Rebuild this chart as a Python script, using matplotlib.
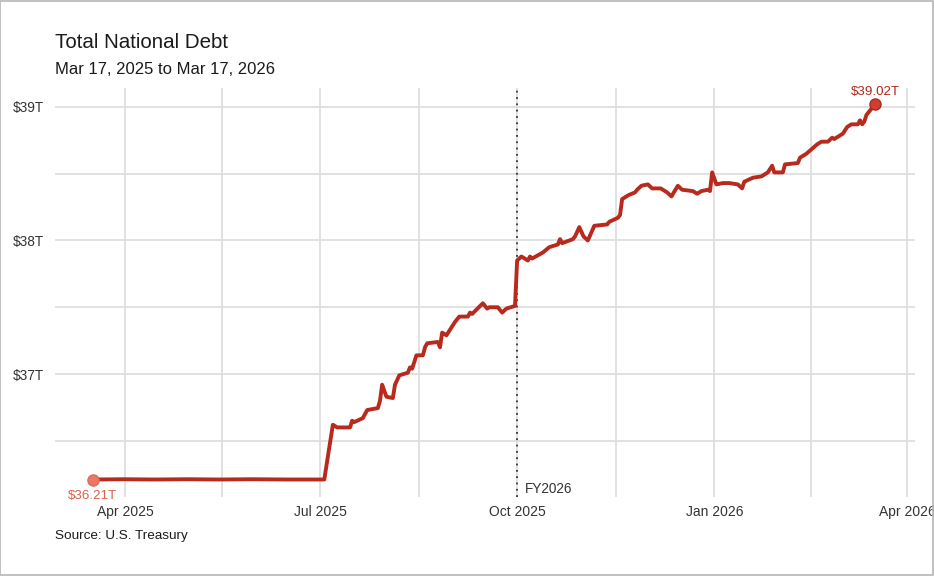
import matplotlib
matplotlib.use("Agg")
import matplotlib.pyplot as plt
import matplotlib.dates as mdates
from matplotlib.patches import Rectangle
import numpy as np
import pandas as pd

plt.rcParams['font.family'] = ['Liberation Sans', 'DejaVu Sans']

# ---- data ($ trillions) ----
dates = [
    "2025-03-17", "2025-03-31", "2025-04-15", "2025-04-30", "2025-05-15", "2025-05-30",
    "2025-06-16", "2025-06-30", "2025-07-03",
    "2025-07-07", "2025-07-09", "2025-07-15", "2025-07-16", "2025-07-17", "2025-07-21",
    "2025-07-23", "2025-07-28", "2025-07-29", "2025-07-30", "2025-08-01", "2025-08-04",
    "2025-08-05", "2025-08-07", "2025-08-11", "2025-08-12", "2025-08-13", "2025-08-15",
    "2025-08-18", "2025-08-19", "2025-08-20", "2025-08-25", "2025-08-26", "2025-08-27",
    "2025-08-29", "2025-09-02", "2025-09-04", "2025-09-08", "2025-09-09", "2025-09-10",
    "2025-09-15", "2025-09-17", "2025-09-18", "2025-09-22", "2025-09-24", "2025-09-26",
    "2025-09-30", "2025-10-01", "2025-10-03", "2025-10-06", "2025-10-07", "2025-10-08",
    "2025-10-13", "2025-10-16", "2025-10-20", "2025-10-21", "2025-10-22", "2025-10-27",
    "2025-10-28", "2025-10-30", "2025-11-01", "2025-11-03", "2025-11-06", "2025-11-12",
    "2025-11-13", "2025-11-17", "2025-11-18", "2025-11-19", "2025-11-21", "2025-11-22",
    "2025-11-25", "2025-11-26", "2025-11-28", "2025-12-01", "2025-12-03", "2025-12-07",
    "2025-12-10", "2025-12-12", "2025-12-15", "2025-12-17", "2025-12-22", "2025-12-24",
    "2025-12-26", "2025-12-29", "2025-12-30", "2025-12-31", "2026-01-02", "2026-01-05",
    "2026-01-08", "2026-01-12", "2026-01-14", "2026-01-15", "2026-01-19", "2026-01-23",
    "2026-01-26", "2026-01-28", "2026-01-29", "2026-02-02", "2026-02-03", "2026-02-09",
    "2026-02-10", "2026-02-13", "2026-02-18", "2026-02-20", "2026-02-23", "2026-02-25",
    "2026-02-26", "2026-03-02", "2026-03-04", "2026-03-06", "2026-03-09", "2026-03-10",
    "2026-03-11", "2026-03-12", "2026-03-13", "2026-03-16", "2026-03-17",
]
debt = [
    36.21, 36.212, 36.21, 36.212, 36.21, 36.212,
    36.21, 36.21, 36.21,
    36.62, 36.60, 36.60, 36.65, 36.64, 36.67,
    36.73, 36.745, 36.80, 36.92, 36.83, 36.82,
    36.92, 36.99, 37.01, 37.05, 37.04, 37.14,
    37.14, 37.20, 37.23, 37.24, 37.20, 37.31,
    37.29, 37.39, 37.43, 37.43, 37.46, 37.45,
    37.53, 37.49, 37.50, 37.50, 37.46, 37.49,
    37.51, 37.85, 37.88, 37.85, 37.88, 37.865,
    37.91, 37.95, 37.97, 38.01, 37.98, 38.01,
    38.03, 38.10, 38.03, 38.00, 38.11, 38.12,
    38.14, 38.17, 38.19, 38.31, 38.33, 38.34,
    38.36, 38.38, 38.41, 38.42, 38.39, 38.39,
    38.36, 38.33, 38.41, 38.38, 38.37, 38.35,
    38.37, 38.38, 38.37, 38.51, 38.42, 38.43,
    38.43, 38.42, 38.39, 38.44, 38.47, 38.48,
    38.51, 38.56, 38.51, 38.51, 38.57, 38.58,
    38.62, 38.65, 38.72, 38.74, 38.74, 38.77,
    38.76, 38.80, 38.85, 38.87, 38.87, 38.90,
    38.87, 38.89, 38.94, 39.00, 39.02,
]
title = "Total National Debt"
subtitle = "Mar 17, 2025 to Mar 17, 2026"
source = "Source: U.S. Treasury"
x_ticks = ["2025-04-01", "2025-07-01", "2025-10-01", "2026-01-01", "2026-04-01"]
x_tick_labels = ["Apr 2025", "Jul 2025", "Oct 2025", "Jan 2026", "Apr 2026"]
y_ticks = [37, 38, 39]
y_tick_labels = ["$37T", "$38T", "$39T"]
y_minor = [36.5, 37.5, 38.5]
fy_date = "2025-10-01"
fy_label = "FY2026"

# ---- figure ----
W, H = 934, 576
fig = plt.figure(figsize=(W / 100, H / 100), dpi=100, facecolor="white")
ax = fig.add_axes([55 / W, 1 - 497 / H, (915 - 55) / W, (497 - 88) / H])
ax.set_facecolor("white")

d = pd.to_datetime(dates)
dn = mdates.date2num(d)
xt = mdates.date2num(pd.to_datetime(x_ticks))
x_minor = (xt[:-1] + xt[1:]) / 2

grid_c = "#dedede"
for v in list(xt) + list(x_minor):
    ax.axvline(v, color=grid_c, lw=1.3, zorder=0)
for v in y_ticks + y_minor:
    ax.axhline(v, color=grid_c, lw=1.3, zorder=0)

ax.set_xlim(mdates.date2num(pd.Timestamp("2025-02-27 08:00")),
            mdates.date2num(pd.Timestamp("2026-04-04 16:00")))
ax.set_ylim(36.079, 39.142)

line_c = "#b82a1e"
ax.plot(dn, debt, color=line_c, lw=2.8, solid_joinstyle="round",
        solid_capstyle="round", zorder=3)

# FY marker
fyx = mdates.date2num(pd.Timestamp(fy_date))
ax.axvline(fyx, color="#333333", lw=1.3, linestyle=(0, (1, 2.5)), zorder=2)
ax.annotate(fy_label, xy=(fyx, 0), xycoords=("data", "axes fraction"),
            xytext=(5.5, 3), textcoords="offset points", ha="left", va="baseline",
            fontsize=9.8, color="#333333")

# endpoints
ax.plot(dn[0], debt[0], "o", ms=8, color="#e97a66", mec="#e06a55", mew=1, zorder=4)
ax.annotate(f"${debt[0]:.2f}T", xy=(dn[0], debt[0]), xytext=(0, -14),
            textcoords="offset points", ha="center", va="baseline",
            fontsize=9.6, color="#d8604c")
ax.plot(dn[-1], debt[-1], "o", ms=8, color="#cf3f30", mec="#b02a1e", mew=1, zorder=4)
ax.annotate(f"${debt[-1]:.2f}T", xy=(dn[-1], debt[-1]), xytext=(0, 7),
            textcoords="offset points", ha="center", va="baseline",
            fontsize=9.6, color="#b3261a")

ax.set_xticks(xt)
ax.set_xticklabels(x_tick_labels, fontsize=10, color="#333333")
ax.set_yticks(y_ticks)
ax.set_yticklabels(y_tick_labels, fontsize=9.8, color="#333333")
ax.tick_params(axis="x", length=0, pad=6)
ax.tick_params(axis="y", length=0, pad=8)
for s in ax.spines.values():
    s.set_visible(False)

fig.text(55 / W, 1 - 48 / H, title, fontsize=14.8, color="#1a1a1a",
         ha="left", va="baseline")
fig.text(55 / W, 1 - 74 / H, subtitle, fontsize=12, color="#1a1a1a",
         ha="left", va="baseline")
fig.text(55 / W, 1 - 539 / H, source, fontsize=9.7, color="#1a1a1a",
         ha="left", va="baseline")

fig.patches.append(Rectangle((0.0005, 0.001), 0.998, 0.997, transform=fig.transFigure,
                             fill=False, edgecolor="#b5b5b5", lw=1.2))

fig.savefig("out.png", dpi=100, facecolor="white")
